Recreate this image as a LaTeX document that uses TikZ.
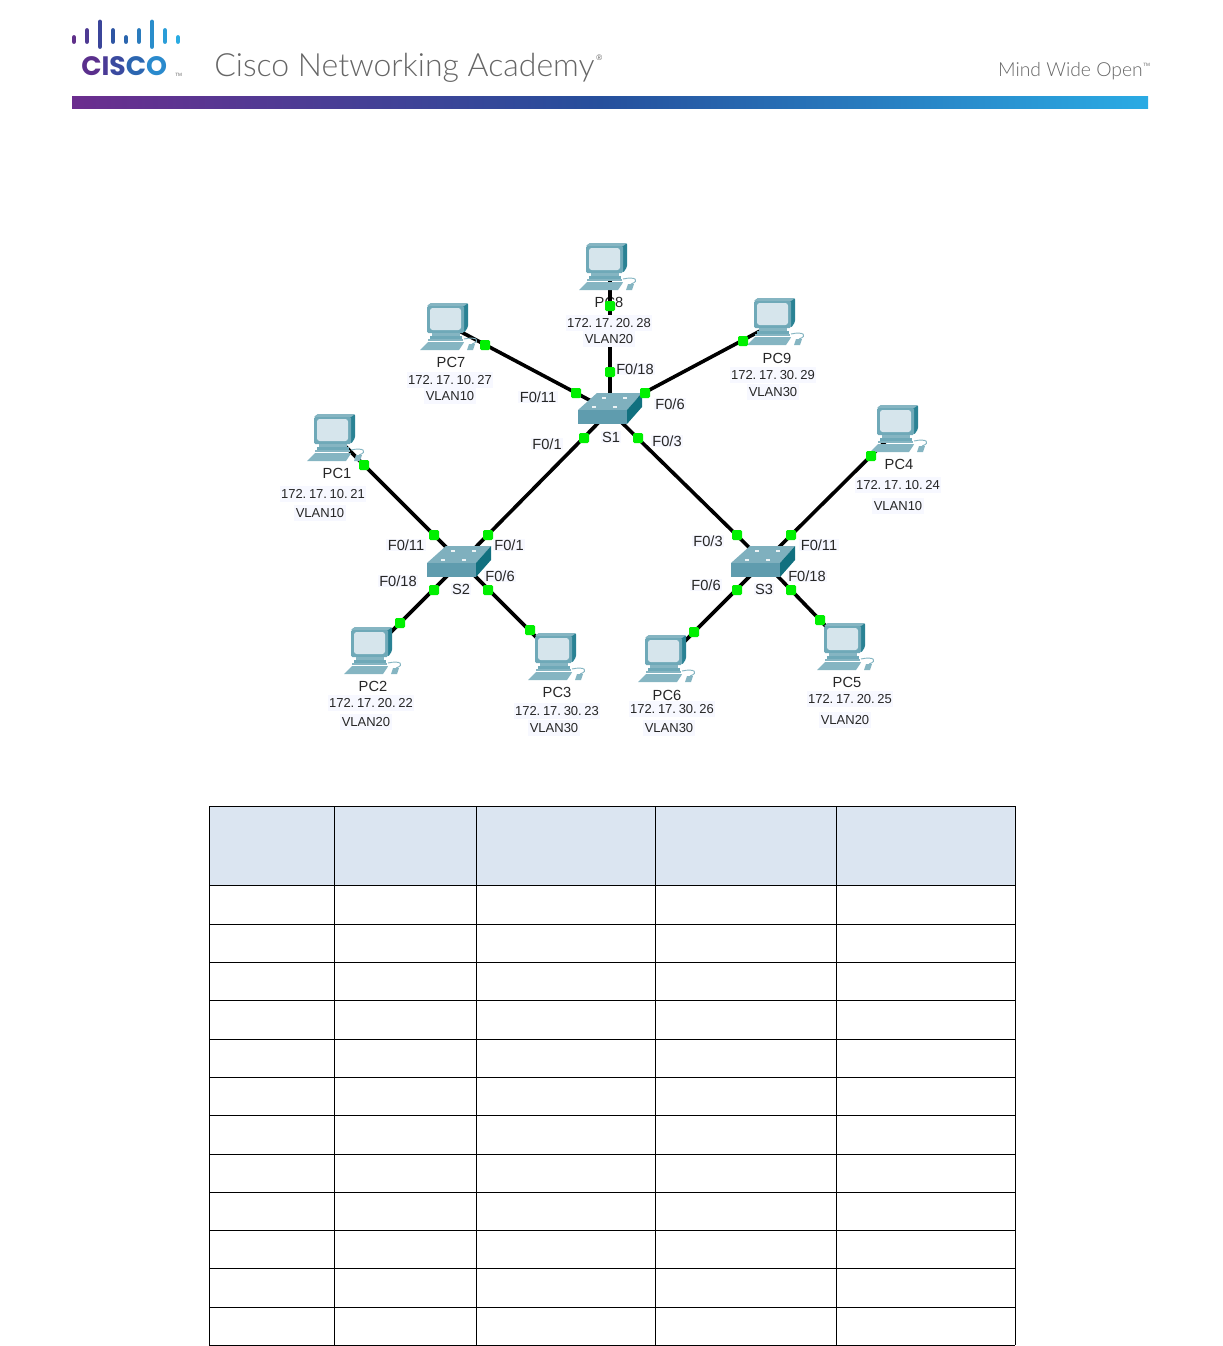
\documentclass[tikz,border=0pt]{standalone}
\usepackage{fontspec}
\setmainfont{Liberation Sans}
\newfontfamily\logofont[UprightFont=* Light]{Lato}
\newfontfamily\ciscofont[UprightFont=* Bold]{Poppins}
\newcommand{\ipdot}{.\kern2pt}
\definecolor{bandA}{HTML}{6B2D8E}
\definecolor{bandB}{HTML}{264F9C}
\definecolor{bandC}{HTML}{2AABE4}
\definecolor{headblue}{HTML}{DBE5F1}
\definecolor{logogray}{HTML}{666666}
\definecolor{lblback}{HTML}{F7F8FF}
\definecolor{portgreen}{HTML}{00F000}
\definecolor{pcbody}{HTML}{6FA9B8}
\definecolor{pcside}{HTML}{2A8294}
\definecolor{pcscreen}{HTML}{D6E5EC}
\definecolor{pclight}{HTML}{85B5C2}
\definecolor{swtop}{HTML}{7FB0BE}
\definecolor{swfront}{HTML}{5F9CAE}
\definecolor{swside}{HTML}{11707F}
\begin{document}
\begin{tikzpicture}[
  x=0.75pt,y=-0.75pt,
  hub/.style={inner sep=0pt,minimum size=0pt},
  link/.style={line width=2.7pt,black},
  port/.style={fill=portgreen,inner sep=0pt,minimum size=7.5pt,rounded corners=1pt},
  tag/.style={fill=lblback,inner xsep=1pt,inner ysep=0.5pt,minimum height=12.5pt,text=black!85,font=\fontsize{9.75}{10}\selectfont},
  porttag/.style={fill=lblback,inner xsep=1pt,inner ysep=0.5pt,text=black!85,font=\fontsize{11}{11}\selectfont},
  pcname/.style={inner sep=0pt,text=black!85,font=\fontsize{11}{11}\selectfont},
  grid/.style={black,line width=0.6pt},
  pcicon/.pic={
    \fill[pcside,rounded corners=1pt] (0,0) -- (4,-3) -- (41,-3) -- (41,21) -- (37,27) -- (37,0) -- cycle;
    \fill[pclight] (0,0) -- (4,-3) -- (41,-3) -- (37,0) -- cycle;
    \fill[pcbody,rounded corners=1pt] (0,0) rectangle (37,27);
    \fill[pcscreen,rounded corners=2pt] (3,2) rectangle (34,24);
    \fill[pclight] (5,27) rectangle (33,30);
    \fill[pcbody] (3,30) rectangle (35,33);
    \fill[pclight] (1,33) rectangle (36,35);
    \fill[pclight] (-7,44) -- (1,36) -- (37,36) -- (36,38) -- (32,44) -- cycle;
    \fill[pclight] (40,44) -- (42,38) -- (48,38) -- (46,44) -- cycle;
    \draw[pclight,line width=0.7pt] (37,33) .. controls (50,30) and (54,35) .. (45,38);
  },
  switchicon/.pic={
    \fill[swtop] (0,0) -- (19,-17) -- (64,-17) -- (49,0) -- cycle;
    \fill[swfront] (0,0) rectangle (49,14);
    \fill[swside] (49,0) -- (64,-17) -- (64,-3) -- (49,14) -- cycle;
    \fill[white!85!swtop] (14,-4) rectangle (18,-2);
    \fill[white!85!swtop] (35,-4) rectangle (39,-2);
    \fill[white!85!swtop] (24,-13) rectangle (28,-11);
    \fill[white!85!swtop] (45,-13) rectangle (49,-11);
  },
]
\useasboundingbox (0,0) rectangle (1222,1346);

% header
\foreach \xb/\ya/\yb/\hex in {74/37.5/41.5/5F2F8A,87/30.5/41.5/4E3A93,100/22/46.5/3B459A,113/30.5/41.5/2E55A3,126/37.5/41.5/2A65AE,139/30.5/41.5/2A7BBD,152/22/46.5/2A8DCB,165/30.5/41.5/2A9DD8,178/37.5/41.5/2AABE2}{
  \definecolor{barcol}{HTML}{\hex}
  \draw[barcol,line width=3.7pt,line cap=round] (\xb,\ya) -- (\xb,\yb);
}
\node[anchor=base west,inner sep=0pt,font=\ciscofont\fontsize{20}{22}\selectfont] (ciscoword) at (81,75.5)
  {\textcolor[HTML]{5A2F8C}{C}\textcolor[HTML]{4A3A96}{I}\textcolor[HTML]{3A4A9F}{S}\textcolor[HTML]{2C66B0}{C}\textcolor[HTML]{2A8ACD}{O}};
\node[anchor=base west,inner sep=0pt,text=logogray,font=\fontsize{3.5}{4}\selectfont] (ciscotm) at (175,76) {TM};
\node[anchor=base west,inner sep=0pt,text=logogray,font=\logofont\fontsize{24}{26}\selectfont] (academy) at (214,76)
  {Cisco Networking Academy};
\node[anchor=base west,inner sep=0pt,text=logogray,font=\fontsize{6}{6}\selectfont] (academyr) at (596,60) {®};
\node[anchor=base east,inner sep=0pt,text=logogray,font=\logofont\fontsize{14.5}{16}\selectfont] (mindopen) at (1143,76)
  {Mind Wide Open};
\node[anchor=base west,inner sep=0pt,text=logogray,font=\fontsize{3.5}{4}\selectfont] (mindtm) at (1143,66) {TM};
\shade[left color=bandA,right color=bandB] (72,96) rectangle (600,108);
\shade[left color=bandB,right color=bandC] (600,96) rectangle (1148,108);

% devices
\node[hub] (s1) at (610,411) {};
\node[hub] (s2) at (461,562) {};
\node[hub] (s3) at (764,562) {};
\node[hub] (pc1) at (334,435) {};
\node[hub] (pc2) at (370,653) {};
\node[hub] (pc3) at (555,656) {};
\node[hub] (pc4) at (896,431) {};
\node[hub] (pc5) at (845,646) {};
\node[hub] (pc6) at (664,662) {};
\node[hub] (pc7) at (448,325) {};
\node[hub] (pc8) at (610,268) {};
\node[hub] (pc9) at (775,323) {};

% PC names sit under the cables
\node[pcname] (pc1name) at (337,473) {PC1};
\node[pcname] (pc2name) at (373,686) {PC2};
\node[pcname] (pc3name) at (557,692) {PC3};
\node[pcname] (pc4name) at (899,464) {PC4};
\node[pcname] (pc5name) at (847,682) {PC5};
\node[pcname] (pc6name) at (667,695) {PC6};
\node[pcname] (pc7name) at (451,362) {PC7};
\node[pcname] (pc8name) at (609,302) {PC8};
\node[pcname] (pc9name) at (777,358) {PC9};

\draw[link] (s1) -- (s2);
\draw[link] (s1) -- (s3);
\draw[link] (s1) -- (pc7);
\draw[link] (s1) -- (pc8);
\draw[link] (s1) -- (pc9);
\draw[link] (s2) -- (pc1);
\draw[link] (s2) -- (pc2);
\draw[link] (s2) -- (pc3);
\draw[link] (s3) -- (pc4);
\draw[link] (s3) -- (pc5);
\draw[link] (s3) -- (pc6);

\node[tag] (pc1ip) at (323,494) {172\ipdot 17\ipdot 10\ipdot 21};
\node[tag] (pc1vlan) at (320,513) {VLAN10};
\node[tag] (pc2ip) at (371,703) {172\ipdot 17\ipdot 20\ipdot 22};
\node[tag] (pc2vlan) at (366,722) {VLAN20};
\node[tag] (pc3ip) at (557,711) {172\ipdot 17\ipdot 30\ipdot 23};
\node[tag] (pc3vlan) at (554,728) {VLAN30};
\node[tag] (pc4ip) at (898,485) {172\ipdot 17\ipdot 10\ipdot 24};
\node[tag] (pc4vlan) at (898,506) {VLAN10};
\node[tag] (pc5ip) at (850,699) {172\ipdot 17\ipdot 20\ipdot 25};
\node[tag] (pc5vlan) at (845,720) {VLAN20};
\node[tag] (pc6ip) at (672,709) {172\ipdot 17\ipdot 30\ipdot 26};
\node[tag] (pc6vlan) at (669,728) {VLAN30};
\node[tag] (pc7ip) at (450,380) {172\ipdot 17\ipdot 10\ipdot 27};
\node[tag] (pc7vlan) at (450,396) {VLAN10};
\node[tag] (pc8ip) at (609,323) {172\ipdot 17\ipdot 20\ipdot 28};
\node[tag] (pc8vlan) at (609,339) {VLAN20};
\node[tag] (pc9ip) at (773,375) {172\ipdot 17\ipdot 30\ipdot 29};
\node[tag] (pc9vlan) at (773,392) {VLAN30};

\node[porttag] (s1name) at (611,437) {S1};
\node[porttag] (s2name) at (461,589) {S2};
\node[porttag] (s3name) at (764,589) {S3};

\node[porttag] (s1f11) at (538,397) {F0/11};
\node[porttag] (s1f18) at (635,369) {F0/18};
\node[porttag] (s1f6) at (670,404) {F0/6};
\node[porttag] (s1f1) at (547,444) {F0/1};
\node[porttag] (s1f3) at (667,441) {F0/3};
\node[porttag] (s2f11) at (406,545) {F0/11};
\node[porttag] (s2f1) at (509,545) {F0/1};
\node[porttag] (s2f18) at (398,581) {F0/18};
\node[porttag] (s2f6) at (500,576) {F0/6};
\node[porttag] (s3f3) at (708,541) {F0/3};
\node[porttag] (s3f11) at (819,545) {F0/11};
\node[porttag] (s3f6) at (706,585) {F0/6};
\node[porttag] (s3f18) at (807,576) {F0/18};

\pic at (578,410) {switchicon};
\pic at (427,563) {switchicon};
\pic at (731,563) {switchicon};
\pic at (314,417) {pcicon};
\pic at (351,630) {pcicon};
\pic at (535,636) {pcicon};
\pic at (877,408) {pcicon};
\pic at (824,626) {pcicon};
\pic at (645,638) {pcicon};
\pic at (427,306) {pcicon};
\pic at (586,246) {pcicon};
\pic at (754,301) {pcicon};

% link lights
\node[port] (p1) at (576,393) {};
\node[port] (p2) at (610,372) {};
\node[port] (p3) at (645,393) {};
\node[port] (p4) at (584,438) {};
\node[port] (p5) at (638,438) {};
\node[port] (p6) at (485,345) {};
\node[port] (p7) at (610,306) {};
\node[port] (p8) at (743,341) {};
\node[port] (p9) at (434,535) {};
\node[port] (p10) at (488,535) {};
\node[port] (p11) at (434,590) {};
\node[port] (p12) at (488,590) {};
\node[port] (p13) at (737,535) {};
\node[port] (p14) at (791,535) {};
\node[port] (p15) at (737,590) {};
\node[port] (p16) at (791,590) {};
\node[port] (p17) at (364,465) {};
\node[port] (p18) at (400,623) {};
\node[port] (p19) at (530,630) {};
\node[port] (p20) at (871,456) {};
\node[port] (p21) at (820,620) {};
\node[port] (p22) at (694,632) {};

% table
\fill[headblue] (209,806) rectangle (1015,885);
\foreach \rowy in {806,885,924,962,1000,1039,1077,1115,1154,1192,1230,1268,1307,1345}
  \draw[grid] (209,\rowy) -- (1015,\rowy);
\foreach \colx in {209,334,476,655,836,1015}
  \draw[grid] (\colx,806) -- (\colx,1345);

\end{tikzpicture}
\end{document}
